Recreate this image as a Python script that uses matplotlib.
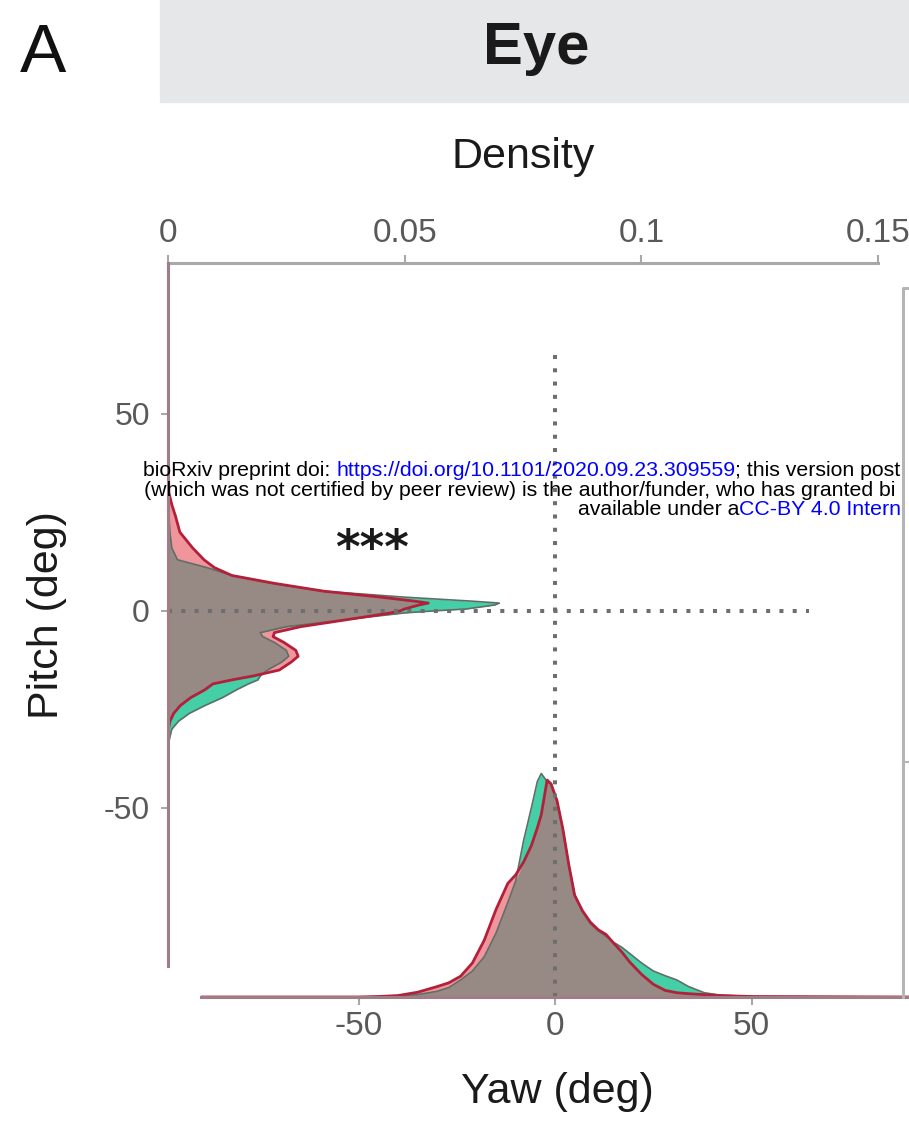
import numpy as np
import matplotlib
matplotlib.use("Agg")
import matplotlib.pyplot as plt
from matplotlib.lines import Line2D
from matplotlib.patches import Rectangle
from matplotlib.text import Annotation

W, H = 909, 1135

plt.rcParams['font.family'] = ['Liberation Sans', 'DejaVu Sans']

# pitch marginal (density read along pitch)
pitch = [90, 40, 30, 27, 24, 20, 16, 13, 11, 9, 7, 5, 3.5, 2.5, 2, 1.5, 0.5, 0, -0.5, -2,
         -4, -5.5, -6.5, -8, -10, -11.5, -13, -15, -16.5, -17.5, -18.5, -20, -22, -24, -26,
         -28, -30, -33, -40, -90]
pitch_green = [0, 0, 0, 0.0001, 0.0002, 0.0004, 0.0008, 0.002, 0.0082, 0.0135, 0.022, 0.033,
               0.050, 0.064, 0.070, 0.069, 0.063, 0.056, 0.050, 0.039, 0.025, 0.0195, 0.020,
               0.0225, 0.025, 0.0255, 0.024, 0.021, 0.0195, 0.019, 0.017, 0.0145, 0.0115,
               0.0078, 0.0045, 0.0022, 0.0008, 0.0002, 0, 0]
pitch_red = [0, 0, 0.0002, 0.0008, 0.0016, 0.0025, 0.0052, 0.0076, 0.0098, 0.0135, 0.0225,
             0.033, 0.045, 0.052, 0.055, 0.053, 0.050, 0.049, 0.047, 0.039, 0.028, 0.0225,
             0.0222, 0.0245, 0.027, 0.0275, 0.026, 0.0235, 0.018, 0.0135, 0.0095, 0.0078,
             0.0048, 0.0026, 0.0012, 0.0004, 0.0001, 0, 0, 0]

# yaw marginal
yaw = [-90, -50, -45, -40, -35, -30, -27, -24, -21, -18, -15, -12, -10, -8, -6, -4.5, -3.5,
       -2, -1, 0.5, 2, 3.5, 5, 7, 9, 11, 13, 15, 17, 19, 22, 25, 28, 31, 34, 38, 42, 50, 90]
yaw_green = [0, 0, 0.0001, 0.0002, 0.0005, 0.0012, 0.002, 0.0036, 0.0055, 0.0085, 0.0135,
             0.020, 0.0245, 0.033, 0.040, 0.0455, 0.0472, 0.0455, 0.045, 0.0415, 0.0355,
             0.028, 0.0215, 0.018, 0.0155, 0.014, 0.0128, 0.0115, 0.0105, 0.0092, 0.0072,
             0.0055, 0.0045, 0.0036, 0.0022, 0.0009, 0.0004, 0.0001, 0]
yaw_red = [0, 0, 0.0001, 0.0003, 0.001, 0.0022, 0.003, 0.0044, 0.0072, 0.012, 0.0185, 0.024,
           0.0258, 0.0285, 0.032, 0.0357, 0.0385, 0.0458, 0.045, 0.0415, 0.0355, 0.028,
           0.0215, 0.0182, 0.0158, 0.0142, 0.0132, 0.0113, 0.0095, 0.0074, 0.0048, 0.0027,
           0.0014, 0.0009, 0.0007, 0.0005, 0.0003, 0.0001, 0]

density_ticks = [0, 0.05, 0.1, 0.15]
density_labels = ['0', '0.05', '0.1', '0.15']
angle_ticks = [-50, 0, 50]
angle_labels = ['-50', '0', '50']
ref_extent = 0.1355   # how far the dotted zero lines reach, in density units

GREEN = '#45cfa6'
PINK = '#f0959c'
OVERLAP = '#978984'
RED_LINE = '#b3203a'
GREEN_LINE = '#5f6f68'
AXIS = '#a07c84'
GRAY = '#a8a8a8'
TICKTXT = '#595959'
DOT = '#6e6e6e'
DOTS = (0, (1, 2.3))


def fx(x):
    return x / W


def fy(y):
    return 1 - y / H


fig = plt.figure(figsize=(W / 100, H / 100), dpi=100)
fig.add_artist(Rectangle((fx(160), fy(102)), 1 - fx(160), 102 / H,
                         transform=fig.transFigure, color='#e6e7e9', zorder=0))

# pitch density on the left
axp = fig.add_axes([fx(168), fy(965.6), 710 / W, (965.6 - 263) / H])
axp.set_facecolor('none')
axp.set_xlim(0, 0.15)
axp.set_ylim(-90, 88.3)
axp.fill_betweenx(pitch, 0, pitch_green, color=GREEN, lw=0)
axp.fill_betweenx(pitch, 0, pitch_red, color=PINK, lw=0)
axp.fill_betweenx(pitch, 0, np.minimum(pitch_green, pitch_red), color=OVERLAP, lw=0)
axp.plot(pitch_green, pitch, color=GREEN_LINE, lw=1.2)
axp.plot(pitch_red, pitch, color=RED_LINE, lw=2)
axp.plot([0, ref_extent], [0, 0], color=DOT, lw=2.9, ls=DOTS, zorder=4)
for s in ['right', 'bottom']:
    axp.spines[s].set_visible(False)
axp.spines['top'].set_color(GRAY)
axp.spines['top'].set_linewidth(2.2)
axp.spines['left'].set_color(AXIS)
axp.spines['left'].set_linewidth(2.2)
axp.spines['left'].set_zorder(5)
axp.xaxis.tick_top()
axp.set_xticks(density_ticks, density_labels)
axp.set_yticks(angle_ticks, angle_labels)
axp.tick_params(axis='x', direction='out', length=6, width=1.5, color=GRAY,
                labelsize=24, labelcolor=TICKTXT, pad=4)
axp.tick_params(axis='y', direction='out', length=5, width=1.5, color=GRAY,
                labelsize=23, labelcolor=TICKTXT, pad=8)

# yaw density at the bottom
axy = fig.add_axes([fx(201.3), fy(997), 707.4 / W, (997 - 263) / H])
axy.set_facecolor('none')
axy.set_xlim(-90, 90)
axy.set_ylim(0, 0.155)
axy.fill_between(yaw, 0, yaw_green, color=GREEN, lw=0)
axy.fill_between(yaw, 0, yaw_red, color=PINK, lw=0)
axy.fill_between(yaw, 0, np.minimum(yaw_green, yaw_red), color=OVERLAP, lw=0)
axy.plot(yaw, yaw_green, color=GREEN_LINE, lw=1.2)
axy.plot(yaw, yaw_red, color=RED_LINE, lw=2)
axy.plot([0, 0], [0, ref_extent], color=DOT, lw=2.9, ls=DOTS, zorder=4)
for s in ['right', 'top', 'left']:
    axy.spines[s].set_visible(False)
axy.spines['bottom'].set_color(AXIS)
axy.spines['bottom'].set_linewidth(2.2)
axy.spines['bottom'].set_zorder(5)
axy.set_yticks([])
axy.set_xticks(angle_ticks, angle_labels)
axy.tick_params(axis='x', direction='out', length=6, width=1.5, color=GRAY,
                labelsize=24, labelcolor=TICKTXT, pad=4)

# frame of the neighbouring panel at the right edge
fig.add_artist(Line2D([fx(903), fx(903), 1.0], [fy(997), fy(288), fy(288)],
                      color='#b5b5b5', lw=2.2))
fig.add_artist(Line2D([fx(903), fx(909)], [fy(762), fy(762)], color='#b5b5b5', lw=1.5))

# labels
fig.text(fx(43), fy(72), 'A', fontsize=50, ha='center', va='baseline', color='#111111')
fig.text(fx(536), fy(64), 'Eye', fontsize=43, fontweight='bold', ha='center',
         va='baseline', color='#1a1a1a')
fig.text(fx(523), fy(168), 'Density', fontsize=31, ha='center', va='baseline',
         color='#1a1a1a')
fig.text(fx(58), fy(615), 'Pitch (deg)', fontsize=31, rotation=90, rotation_mode='anchor',
         ha='center', va='baseline', color='#1a1a1a')
fig.text(fx(557), fy(1103), 'Yaw (deg)', fontsize=31, ha='center', va='baseline',
         color='#1a1a1a')
fig.text(fx(372), fy(563), '***', fontsize=34, fontweight='bold', family='DejaVu Sans',
         ha='center', va='baseline', color='#1a1a1a')

# bioRxiv watermark, only the part that is inside the panel
WM = 15.3
BLUE = '#0000ff'


def chain(prev, s, color, gap=0.0):
    a = Annotation(s, xy=(1, 0), xycoords=prev, xytext=(gap, 0),
                   textcoords='offset points', ha='left', va='bottom',
                   color=color, fontsize=WM)
    fig.add_artist(a)
    return a


t = fig.text(fx(143), fy(476), 'bioRxiv preprint doi:', fontsize=WM, va='baseline',
             color='black')
t = chain(t, 'https://doi.org/10.1101/2020.09.23.309559', BLUE, gap=4.25)
chain(t, '; this version post', 'black')
fig.text(fx(144), fy(496),
         '(which was not certified by peer review) is the author/funder, who has granted bi',
         fontsize=WM, va='baseline', color='black')
t = fig.text(fx(578), fy(515), 'available under a', fontsize=WM, va='baseline',
             color='black')
chain(t, 'CC-BY 4.0 Intern', BLUE)

fig.savefig('out.png', dpi=100)
